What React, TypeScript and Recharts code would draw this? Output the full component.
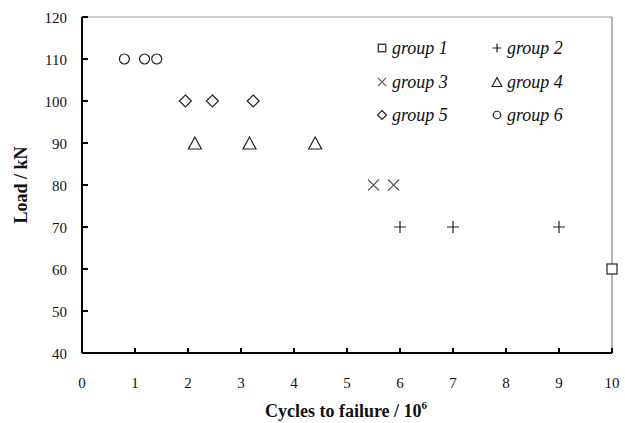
import React from 'react'
import {
  ScatterChart,
  Scatter,
  XAxis,
  YAxis,
  ReferenceLine,
  Label,
} from 'recharts'

// cycles to failure (x 10^6) per group, load in kN
const group1 = [{ cycles: 10, load: 60 }]
const group2 = [
  { cycles: 6.0, load: 70 },
  { cycles: 7.0, load: 70 },
  { cycles: 9.0, load: 70 },
]
const group3 = [
  { cycles: 5.5, load: 80 },
  { cycles: 5.88, load: 80 },
]
const group4 = [
  { cycles: 2.13, load: 90 },
  { cycles: 3.16, load: 90 },
  { cycles: 4.4, load: 90 },
]
const group5 = [
  { cycles: 1.95, load: 100 },
  { cycles: 2.46, load: 100 },
  { cycles: 3.23, load: 100 },
]
const group6 = [
  { cycles: 0.8, load: 110 },
  { cycles: 1.18, load: 110 },
  { cycles: 1.41, load: 110 },
]

const xTicks = [0, 1, 2, 3, 4, 5, 6, 7, 8, 9, 10]
const yTicks = [40, 50, 60, 70, 80, 90, 100, 110, 120]

type Kind = 'square' | 'plus' | 'cross' | 'triangle' | 'diamond' | 'circle'

const series: { name: string; kind: Kind; data: { cycles: number; load: number }[] }[] = [
  { name: 'group 1', kind: 'square', data: group1 },
  { name: 'group 2', kind: 'plus', data: group2 },
  { name: 'group 3', kind: 'cross', data: group3 },
  { name: 'group 4', kind: 'triangle', data: group4 },
  { name: 'group 5', kind: 'diamond', data: group5 },
  { name: 'group 6', kind: 'circle', data: group6 },
]

const FONT = '"Liberation Serif", "Times New Roman", serif'
const INK = '#222'
const W = 625
const H = 423
const AXIS_X = 82 // y axis width
const X_AXIS_H = 70
const AXIS_Y = H - X_AXIS_H

function markerPath(kind: Kind, cx: number, cy: number, s: number) {
  switch (kind) {
    case 'square':
      return <rect x={cx - 5 * s} y={cy - 5 * s} width={10 * s} height={10 * s} fill="#fff" stroke={INK} strokeWidth={1.2} />
    case 'plus':
      return <path d={`M${cx - 6 * s},${cy}H${cx + 6 * s}M${cx},${cy - 6 * s}V${cy + 6 * s}`} stroke={INK} strokeWidth={1.2} fill="none" />
    case 'cross':
      return <path d={`M${cx - 5.5 * s},${cy - 5.5 * s}L${cx + 5.5 * s},${cy + 5.5 * s}M${cx + 5.5 * s},${cy - 5.5 * s}L${cx - 5.5 * s},${cy + 5.5 * s}`} stroke="#555" strokeWidth={1.1} fill="none" />
    case 'triangle':
      return <path d={`M${cx},${cy - 6 * s}L${cx + 6.5 * s},${cy + 6 * s}L${cx - 6.5 * s},${cy + 6 * s}Z`} stroke={INK} strokeWidth={1.2} fill="#fff" />
    case 'diamond':
      return <path d={`M${cx},${cy - 6 * s}L${cx + 6 * s},${cy}L${cx},${cy + 6 * s}L${cx - 6 * s},${cy}Z`} stroke={INK} strokeWidth={1.2} fill="#fff" />
    default:
      return <circle cx={cx} cy={cy} r={5 * s} stroke={INK} strokeWidth={1.2} fill="#fff" />
  }
}

const XTick = (props: any) => {
  const { x, payload } = props
  return (
    <text x={x} y={AXIS_Y + 35} textAnchor="middle" fontFamily={FONT} fontSize={15} fill="#111">
      {payload.value}
    </text>
  )
}

const YTick = (props: any) => {
  const { y, payload } = props
  return (
    <text x={AXIS_X - 15} y={y + 5.5} textAnchor="end" fontFamily={FONT} fontSize={15} fill="#111">
      {payload.value}
    </text>
  )
}

const LegendBox = () => {
  const cols = [382, 497]
  const rows = [48, 82, 115]
  return (
    <div style={{ position: 'absolute', left: 0, top: 0, width: W, height: H, pointerEvents: 'none' }}>
      {series.map((s, i) => {
        const cx = cols[i % 2]
        const cy = rows[Math.floor(i / 2)]
        return (
          <div key={s.name} style={{ position: 'absolute', left: cx - 6, top: cy - 11, height: 22, display: 'flex', alignItems: 'center' }}>
            <svg width={12} height={22} style={{ overflow: 'visible' }}>
              {markerPath(s.kind, 6, 11, 0.75)}
            </svg>
            <span style={{ fontFamily: FONT, fontStyle: 'italic', fontSize: 18, color: '#111', marginLeft: 4, whiteSpace: 'nowrap' }}>
              {s.name}
            </span>
          </div>
        )
      })}
    </div>
  )
}

export default function App() {
  return (
    <div style={{ position: 'absolute', left: 0, top: 0, width: W, height: H, background: '#fff' }}>
      <ScatterChart width={W} height={H} margin={{ top: 17, right: 13, bottom: 0, left: 0 }}>
        <ReferenceLine y={120} stroke="#999" strokeWidth={1} />
        <ReferenceLine x={10} stroke="#999" strokeWidth={1.5} />
        <XAxis
          type="number"
          dataKey="cycles"
          domain={[0, 10]}
          ticks={xTicks}
          interval={0}
          height={X_AXIS_H}
          axisLine={{ stroke: '#000', strokeWidth: 2 }}
          tickLine={{ stroke: '#000', strokeWidth: 2 }}
          tickSize={-5}
          tick={<XTick />}
        >
          <Label
            content={() => (
              <text x={346} y={417} textAnchor="middle" fontFamily={FONT} fontSize={18} fontWeight="bold" fill="#111">
                Cycles to failure / 10
                <tspan dy={-8} fontSize={11}>6</tspan>
              </text>
            )}
          />
        </XAxis>
        <YAxis
          type="number"
          dataKey="load"
          domain={[40, 120]}
          ticks={yTicks}
          interval={0}
          width={AXIS_X}
          axisLine={{ stroke: '#000', strokeWidth: 2 }}
          tickLine={{ stroke: '#000', strokeWidth: 2 }}
          tickSize={-6}
          tick={<YTick />}
        >
          <Label
            content={() => (
              <text x={27} y={185} transform="rotate(-90 27 185)" textAnchor="middle" fontFamily={FONT} fontSize={18} fontWeight="bold" fill="#111">
                Load / kN
              </text>
            )}
          />
        </YAxis>
        {series.map((s) => (
          <Scatter
            key={s.name}
            name={s.name}
            data={s.data}
            isAnimationActive={false}
            shape={(p: any) => markerPath(s.kind, p.cx, p.cy, 1)}
          />
        ))}
      </ScatterChart>
      <LegendBox />
    </div>
  )
}
